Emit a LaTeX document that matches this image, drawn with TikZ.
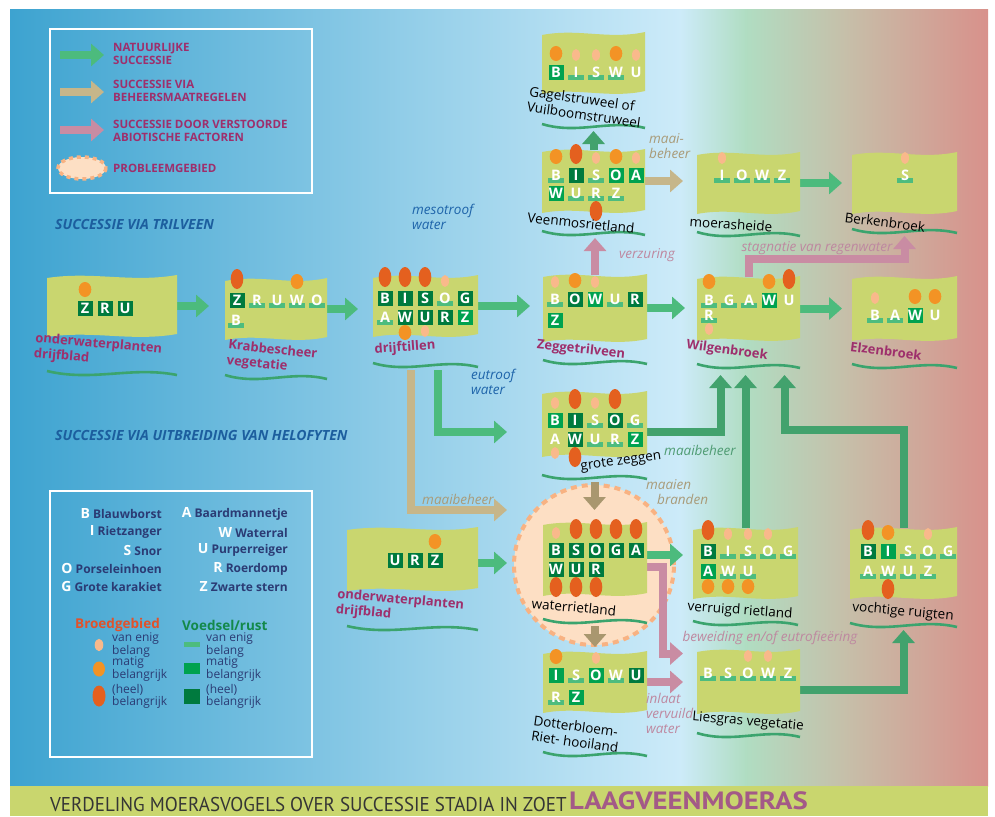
\documentclass[tikz,border=0pt]{standalone}
\usepackage{fontspec}
\setmainfont{Open Sans}
\newfontfamily\barfont[FakeStretch=0.95]{PT Sans}
\newfontfamily\namefont[FakeStretch=1.15]{PT Sans}
\usetikzlibrary{arrows.meta}
\pgfdeclarelayer{back}
\pgfdeclarelayer{mid}
\pgfsetlayers{back,mid,main}
\definecolor{bgA}{HTML}{3DA3D0}
\definecolor{bgB}{HTML}{CDEBF9}
\definecolor{bgC}{HTML}{B0DDC2}
\definecolor{bgD}{HTML}{C6BFA9}
\definecolor{bgE}{HTML}{D8918B}
\definecolor{barc}{HTML}{C9D66E}
\definecolor{flagc}{HTML}{C9D66F}
\definecolor{natc}{HTML}{4CBB7D}
\definecolor{natdk}{HTML}{42A26D}
\definecolor{mgtc}{HTML}{C6B68A}
\definecolor{mgtdk}{HTML}{A9976F}
\definecolor{abioc}{HTML}{C98CA3}
\definecolor{egglt}{HTML}{F9B98B}
\definecolor{eggmd}{HTML}{F39325}
\definecolor{eggbg}{HTML}{E4601F}
\definecolor{boxdk}{HTML}{007A3E}
\definecolor{boxmd}{HTML}{00A24F}
\definecolor{barlt}{HTML}{4DBC7E}
\definecolor{waveg}{HTML}{3BA46E}
\definecolor{purp}{HTML}{9E2F6C}
\definecolor{navy}{HTML}{2B3B74}
\definecolor{secblue}{HTML}{1C5E9E}
\definecolor{annblue}{HTML}{1E64AA}
\definecolor{anntan}{HTML}{A99B79}
\definecolor{annpink}{HTML}{BE88A0}
\definecolor{anngreen}{HTML}{4F9C73}
\definecolor{probfill}{HTML}{FDDFC4}
\definecolor{probedge}{HTML}{F8B282}
\definecolor{broed}{HTML}{E1522B}
\definecolor{voedsel}{HTML}{13894A}
\definecolor{bartxt}{HTML}{353535}
\definecolor{barpurp}{HTML}{A35A87}

\newcommand{\flag}[6]{%
  \node at (#2,#3) (#1) [flagbox, minimum width=#4pt, minimum height=#5pt] {};
  \begin{scope}[shift={(#2,#3)}]
    \fill[flagfill] (0,2) .. controls ({0.35*#4},-5) and ({0.65*#4},7) .. (#4,-1)
      -- (#4,{#5-2}) .. controls ({0.65*#4},{#5+6}) and ({0.35*#4},{#5-6}) .. (0,{#5+1}) -- cycle;
  \end{scope}
  \draw[waveline] (#2,{#6-2}) .. controls ({#2+0.35*#4},{#6+9}) and ({#2+0.65*#4},{#6-7}) .. ({#2+#4},{#6+2});
  \coordinate (#1-base) at ({#2+#4/2},{#6+5});
}
\newcommand{\bird}[4]{%
  \ifcase#4\relax
  \or \fill[barlt] ({#1-8},{#2+3}) rectangle ({#1+8},{#2+7.5});
  \or \fill[boxmd] ({#1-7.5},{#2-7.5}) rectangle ({#1+7.5},{#2+7.5});
  \or \fill[boxdk] ({#1-7.5},{#2-7.5}) rectangle ({#1+7.5},{#2+7.5});
  \fi
  \node at (#1,#2) [birdletter] {#3};
}
\newcommand{\egg}[4]{%
  \ifcase#3\relax
  \or \fill[egglt] ({#1},{#2+(#4)*(9.5-1.5*(#4)+6)}) ellipse [x radius=4, y radius=6];
  \or \fill[eggmd] ({#1},{#2+(#4)*(9.5-1.5*(#4)+7.5)}) ellipse [x radius=6.3, y radius=7.5];
  \or \fill[eggbg] ({#1},{#2+(#4)*(9.5-1.5*(#4)+10)}) ellipse [x radius=6.3, y radius=10];
  \fi
}
\newcommand{\birdrow}[4]{%
  \foreach \ltr/\bx/\eg [count=\k from 0] in {#4} {
    \egg{#1+20*\k}{#2}{\eg}{#3}
    \bird{#1+20*\k}{#2}{\ltr}{\bx}
  }
}

\begin{document}
\begin{tikzpicture}[x=1pt, y=-1pt,
    flagbox/.style={anchor=north west, inner sep=0pt, outer sep=0pt},
    flagfill/.style={fill=flagc},
    waveline/.style={draw=waveg, line width=2.6pt},
    birdletter/.style={text=white, inner sep=0pt, font=\bfseries\fontsize{14.5}{14.5}\selectfont},
    natarrow/.style={draw=natc, line width=8pt, -{Triangle[width=22pt,length=13pt]}},
    natdkarrow/.style={natarrow, draw=natdk},
    mgtarrow/.style={natarrow, draw=mgtc},
    mgtdkarrow/.style={natarrow, draw=mgtdk},
    abioarrow/.style={natarrow, draw=abioc},
    probzone/.style={fill=probfill, draw=probedge, line width=4pt, dash pattern=on 6pt off 5pt},
    lblpur/.style={text=purp, align=left, inner sep=0pt, font=\bfseries\fontsize{13}{15.5}\selectfont},
    lblblk/.style={text=black, align=left, inner sep=0pt, font=\fontsize{13.5}{15.5}\selectfont},
    anno/.style={align=left, inner sep=0pt, font=\itshape\fontsize{13.5}{15}\selectfont},
    legtop/.style={anchor=west, text=purp, align=left, inner sep=0pt, font=\bfseries\fontsize{11.5}{12.5}\selectfont},
    sectitle/.style={anchor=west, text=secblue, inner sep=0pt, font=\bfseries\itshape\fontsize{14}{14}\selectfont},
    legname/.style={anchor=east, text=navy, inner sep=0pt, font=\bfseries\fontsize{12}{14}\selectfont},
    legsmall/.style={anchor=west, text=navy, align=left, inner sep=0pt, font=\fontsize{12}{10.5}\selectfont},
  ]
  \useasboundingbox (0,0) rectangle (995,816);

  \begin{pgfonlayer}{back}
    \fill[white] (0,0) rectangle (995,816);
    \shade[left color=bgA, right color=bgB] (10,10) rectangle (681,786);
    \shade[left color=bgB, right color=bgC] (680,10) rectangle (746,786);
    \shade[left color=bgC, right color=bgD] (745,10) rectangle (846,786);
    \shade[left color=bgD, right color=bgE] (845,10) rectangle (988,786);
    \fill[barc] (10,786) rectangle (988,816);
    \node at (594,565) (probleem) [circle, minimum size=160pt, inner sep=0pt, outer sep=0pt, probzone] {};
  \end{pgfonlayer}

  % legend
  \draw[white, line width=1.2pt] (50,29) rectangle (312,193);
  \draw[natarrow] (60,55) -- (104,55);
  \draw[mgtarrow] (60,92) -- (104,92);
  \draw[abioarrow] (60,130) -- (104,130);
  \draw[probzone, line width=3.5pt, dash pattern=on 4pt off 4pt] (82,168) ellipse [x radius=24, y radius=11];
  \node at (113,54) (leg-nat) [legtop] {NATUURLIJKE\\SUCCESSIE};
  \node at (113,91) (leg-mgt) [legtop] {SUCCESSIE VIA\\BEHEERSMAATREGELEN};
  \node at (113,131) (leg-abio) [legtop] {SUCCESSIE DOOR VERSTOORDE\\ABIOTISCHE FACTOREN};
  \node at (113,168) (leg-prob) [legtop] {PROBLEEMGEBIED};

  \node at (55,224) (sect-tril) [sectitle] {SUCCESSIE VIA TRILVEEN};
  \node at (55,435) (sect-helo) [sectitle] {SUCCESSIE VIA UITBREIDING VAN HELOFYTEN};

  \draw[white, line width=1.2pt] (50,491) rectangle (312,757);
  \foreach \ltr/\nm [count=\k from 0] in {B/Blauwborst, I/Rietzanger, S/Snor, O/Porseleinhoen, G/Grote karakiet}
    \node at (162,{514+18.2*\k}) (leg-\ltr) [legname] {{\fontsize{14}{14}\selectfont\textcolor{white}{\ltr}}\ \nm};
  \foreach \ltr/\nm [count=\k from 0] in {A/Baardmannetje, W/Waterral, U/Purperreiger, R/Roerdomp, Z/Zwarte stern}
    \node at (288,{514+18.2*\k}) (leg-\ltr) [legname] {{\fontsize{14}{14}\selectfont\textcolor{white}{\ltr}}\ \nm};
  \node at (75,625) (leg-broed) [anchor=west, inner sep=0pt, text=broed, font=\bfseries\fontsize{13.5}{14}\selectfont] {Broedgebied};
  \node at (182,625) (leg-voed) [anchor=west, inner sep=0pt, text=voedsel, font=\bfseries\fontsize{13.5}{14}\selectfont] {Voedsel/rust};
  \fill[egglt] (99,645) ellipse [x radius=4.3, y radius=6.2];
  \fill[eggmd] (99,669) ellipse [x radius=6, y radius=7.5];
  \fill[eggbg] (99,696) ellipse [x radius=6.5, y radius=10.5];
  \fill[barlt] (184,642) rectangle (200,647);
  \fill[boxmd] (184,663) rectangle (200,674);
  \fill[boxdk] (184,689) rectangle (200,704);
  \node at (112,645) (leg-b1) [legsmall] {van enig\\belang};
  \node at (112,669) (leg-b2) [legsmall] {matig\\belangrijk};
  \node at (112,696) (leg-b3) [legsmall] {(heel)\\belangrijk};
  \node at (206,645) (leg-v1) [legsmall] {van enig\\belang};
  \node at (206,669) (leg-v2) [legsmall] {matig\\belangrijk};
  \node at (206,696) (leg-v3) [legsmall] {(heel)\\belangrijk};

  % stages
  \flag{drijfA}{47}{276}{130}{60}{373}
  \flag{krabbe}{225}{279}{102}{60}{377}
  \flag{drijftil}{373}{276}{105}{60}{365}
  \flag{gagel}{542}{33}{103}{60}{126}
  \flag{veenmos}{542}{150}{103}{62}{233}
  \flag{moeras}{697}{153}{103}{60}{234}
  \flag{berken}{852}{153}{105}{60}{231}
  \flag{zegge}{543}{275}{104}{66}{362}
  \flag{wilgen}{697}{277}{103}{63}{366}
  \flag{elzen}{852}{277}{105}{63}{366}
  \flag{grotez}{542}{392}{105}{64}{477}
  \flag{waterriet}{543}{523}{104}{72}{621}
  \flag{dotter}{543}{652}{104}{60}{754}
  \flag{verruigd}{693}{528}{105}{70}{623}
  \flag{vochtig}{850}{528}{107}{70}{625}
  \flag{liesgras}{697}{650}{103}{63}{735}
  \flag{drijfB}{347}{528}{131}{62}{628}

  \birdrow{85}{308}{-1}{Z/3/2, R/3/0, U/3/0}
  \birdrow{237}{300}{-1}{Z/3/3, R/1/0, U/1/0, W/1/2, O/1/0}
  \birdrow{236}{320}{1}{B/1/0}
  \birdrow{385}{298}{-1}{B/3/3, I/3/3, S/3/3, O/1/1, G/3/0}
  \birdrow{385}{317}{1}{A/1/0, W/3/2, U/3/1, R/3/0, Z/2/0}
  \birdrow{556}{72}{-1}{B/2/2, I/1/1, S/1/1, W/1/2, U/0/1}
  \birdrow{556}{175}{-1}{B/1/2, I/3/3, S/1/1, O/2/2, A/2/1}
  \birdrow{556}{193}{1}{W/2/0, U/1/0, R/1/3, Z/1/0}
  \birdrow{722}{175}{-1}{I/1/1, O/1/0, W/1/0, Z/1/0}
  \birdrow{905}{175}{-1}{S/1/1}
  \birdrow{555}{299}{-1}{B/1/1, O/3/2, W/2/1, U/1/0, R/3/0}
  \birdrow{555}{320}{1}{Z/2/0}
  \birdrow{709}{300}{-1}{B/1/2, G/1/0, A/1/0, W/2/2, U/0/3}
  \birdrow{709}{315}{1}{R/1/1}
  \birdrow{875}{315}{-1}{B/1/1, A/1/0, W/2/2, U/0/2}
  \birdrow{555}{420}{-1}{B/2/1, I/3/3, S/1/1, O/3/3, G/1/0}
  \birdrow{555}{439}{1}{A/0/1, W/3/3, U/1/0, R/1/0, Z/2/0}
  \birdrow{556}{550}{-1}{B/3/1, S/3/3, O/3/3, G/3/3, A/3/3}
  \birdrow{556}{569}{1}{W/3/3, U/3/3, R/3/3}
  \birdrow{556}{675}{-1}{I/2/2, S/1/0, O/2/1, W/1/0, U/3/0}
  \birdrow{556}{697}{1}{R/1/0, Z/2/0}
  \birdrow{708}{551}{-1}{B/3/3, I/1/1, S/1/1, O/1/1, G/1/0}
  \birdrow{708}{571}{1}{A/2/2, W/1/2, U/1/2}
  \birdrow{868}{551}{-1}{B/3/3, I/2/2, S/1/0, O/1/1, G/1/0}
  \birdrow{868}{571}{1}{A/1/0, W/1/3, U/1/0, Z/1/0}
  \birdrow{708}{673}{-1}{B/1/0, S/1/0, O/1/1, W/1/1, Z/1/0}
  \birdrow{395}{560}{-1}{U/3/0, R/3/0, Z/3/2}

  \node at (98,352) (drijfA-lbl) [lblpur, rotate=-5] {onderwaterplanten\\drijfblad};
  \node at (272,358) (krabbe-lbl) [lblpur, rotate=-6] {Krabbescheer\\vegetatie};
  \node at (405,348) (drijftil-lbl) [lblpur, rotate=4] {drijftillen};
  \node at (585,107) (gagel-lbl) [lblblk, rotate=-8] {Gagelstruweel of\\Vuilboomstruweel};
  \node at (581,223) (veenmos-lbl) [lblblk, rotate=-6] {Veenmosrietland};
  \node at (731,224) (moeras-lbl) [lblblk, rotate=-4] {moerasheide};
  \node at (885,222) (berken-lbl) [lblblk, rotate=-7] {Berkenbroek};
  \node at (581,350) (zegge-lbl) [lblpur, rotate=-6] {Zeggetrilveen};
  \node at (727,351) (wilgen-lbl) [lblpur, rotate=-8] {Wilgenbroek};
  \node at (886,351) (elzen-lbl) [lblpur, rotate=-7] {Elzenbroek};
  \node at (621,462) (grotez-lbl) [lblblk, rotate=8] {grote zeggen};
  \node at (574,607) (waterriet-lbl) [lblblk, rotate=-5] {waterrietland};
  \node at (576,734) (dotter-lbl) [lblblk, rotate=-8] {Dotterbloem-\\Riet- hooiland};
  \node at (740,611) (verruigd-lbl) [lblblk, rotate=-4] {verruigd rietland};
  \node at (903,612) (vochtig-lbl) [lblblk, rotate=-5] {vochtige ruigten};
  \node at (748,722) (liesgras-lbl) [lblblk, rotate=-5] {Liesgras vegetatie};
  \node at (400,608) (drijfB-lbl) [lblpur, rotate=-5] {onderwaterplanten\\drijfblad};

  \node at (412,204) (meso) [anno, anchor=north west, text=annblue] {mesotroof\\water};
  \node at (471,369) (eutroof) [anno, anchor=north west, text=annblue] {eutroof\\water};
  \node at (649,133) (maai-a) [anno, anchor=north west, text=anntan] {maai-\\beheer};
  \node at (647,255) (verzuring) [anno, text=annpink] {verzuring};
  \node at (817,248) (stagnatie) [anno, text=annpink] {stagnatie van regenwater};
  \node at (458,499) (maai-b) [anno, text=anntan] {maaibeheer};
  \node at (700,450) (maai-c) [anno, text=anngreen] {maaibeheer};
  \node at (646,479) (maaien) [anno, anchor=north west, text=anntan] {maaien\\\hspace*{11pt}branden};
  \node at (770,638) (beweiding) [anno, text=annpink] {beweiding en/of eutrofieëring};
  \node at (646,693) (inlaat) [anno, anchor=north west, text=annpink] {inlaat\\vervuild\\water};

  \begin{pgfonlayer}{mid}
    \draw[natarrow, shorten >=16pt] (drijfA.east) -- (drijfA.east -| krabbe.west);
    \draw[natarrow, shorten >=15pt] (krabbe.east) -- (krabbe.east -| drijftil.west);
    \draw[natarrow, shorten >=13pt] (drijftil.east) -- (drijftil.east -| zegge.west);
    \draw[natarrow, shorten >=12pt] (zegge.east) -- (zegge.east -| wilgen.west);
    \draw[natarrow, shorten >=10pt] (wilgen.east) -- (wilgen.east -| elzen.west);
    \draw[natdkarrow] (veenmos.north) -- (veenmos.north |- gagel-base);
    \draw[mgtarrow, shorten >=14pt] (veenmos.east) -- (veenmos.east -| moeras.west);
    \draw[natarrow, shorten >=10pt] (moeras.east) -- (moeras.east -| berken.west);
    \draw[abioarrow] (zegge.north) -- (zegge.north |- veenmos-base);
    \draw[abioarrow] (wilgen.north) -- ++(0,-18) -| (berken-base);
    \draw[natarrow, shorten >=35pt] ([xshift=12pt]drijftil-base) |- ([yshift=-8pt]grotez.west);
    \draw[mgtarrow, shorten >=7pt] ([xshift=-15pt]drijftil-base) |- ([yshift=55pt]probleem.west);
    \draw[natarrow, shorten >=7pt] ([yshift=-4pt]drijfB.east) -- ([yshift=-4pt]drijfB.east -| probleem.west);
    \draw[natdkarrow, shorten >=4pt] ([yshift=-8pt]grotez.east) -| ([xshift=-28pt]wilgen-base);
    \draw[natdkarrow, shorten >=4pt] (verruigd.north) -- (verruigd.north |- wilgen-base);
    \draw[natdkarrow, shorten >=4pt] (vochtig.north) -- ++(0,-98) -| ([xshift=36pt]wilgen-base);
    \draw[mgtdkarrow, shorten >=13pt] (grotez-base) -- (grotez-base |- waterriet.north);
    \draw[mgtdkarrow, shorten >=5pt] (waterriet-base) -- (waterriet-base |- dotter.north);
    \draw[natarrow, shorten >=10pt] ([yshift=4pt]waterriet.east) -- ([yshift=4pt]waterriet.east -| verruigd.west);
    \draw[abioarrow, shorten >=14pt] ([yshift=-8pt]waterriet.east) -- ++(16,0) |- ([yshift=28pt]liesgras.west);
    \draw[abioarrow, shorten >=14pt] (dotter.east) -- (dotter.east -| liesgras.west);
    \draw[natdkarrow] ([yshift=-8pt]liesgras.east) -| (vochtig-base);
  \end{pgfonlayer}

  \node at (50,811) (bar-title) [anchor=base west, inner sep=0pt, text=bartxt, font=\barfont\fontsize{20}{20}\selectfont] {VERDELING MOERASVOGELS OVER SUCCESSIE STADIA IN ZOET};
  \node at (569,809) (bar-name) [anchor=base west, inner sep=0pt, text=barpurp, font=\namefont\bfseries\fontsize{25}{25}\selectfont] {LAAGVEENMOERAS};
\end{tikzpicture}
\end{document}
